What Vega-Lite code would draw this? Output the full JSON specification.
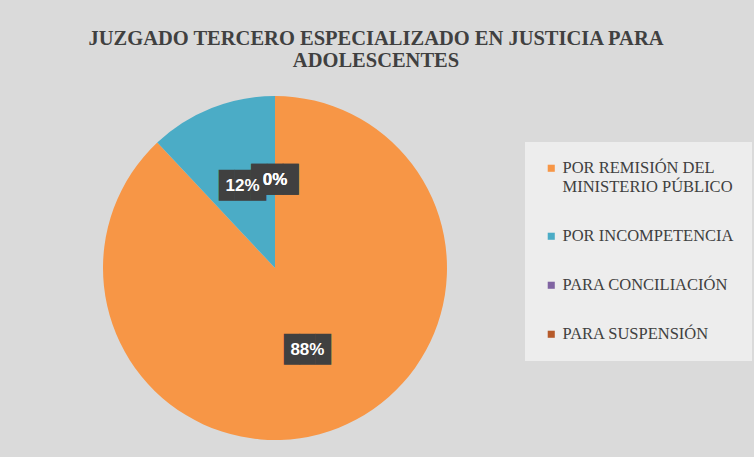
{
  "$schema": "https://vega.github.io/schema/vega-lite/v6.json",
  "autosize": {"type": "none"},
  "width": 550,
  "height": 376,
  "padding": {"left": 0, "top": 80, "right": 204, "bottom": 1},
  "background": "#dadada",
  "title": {
    "text": ["JUZGADO TERCERO ESPECIALIZADO EN JUSTICIA PARA", "ADOLESCENTES"],
    "font": "Liberation Serif",
    "fontSize": 20.5,
    "fontWeight": "bold",
    "color": "#404040",
    "anchor": "middle",
    "frame": "bounds",
    "offset": 9,
    "lineHeight": 22
  },
  "data": {
    "values": [
      {"categoria": "POR REMISIÓN DEL MINISTERIO PÚBLICO", "proporcion": 0.88, "orden": 1},
      {"categoria": "POR INCOMPETENCIA", "proporcion": 0.12, "orden": 2},
      {"categoria": "PARA CONCILIACIÓN", "proporcion": 0, "orden": 3},
      {"categoria": "PARA SUSPENSIÓN", "proporcion": 0, "orden": 4}
    ]
  },
  "encoding": {
    "theta": {"field": "proporcion", "type": "quantitative", "stack": true},
    "order": {"field": "orden", "type": "quantitative"},
    "color": {
      "field": "categoria",
      "type": "nominal",
      "sort": null,
      "scale": {"range": ["#F79646", "#4BACC6", "#8064A2", "#B65A2A"]},
      "legend": {
        "orient": "none",
        "legendX": 525,
        "legendY": 62,
        "title": null,
        "fillColor": "#ededed",
        "padding": 18,
        "labelFont": "Liberation Serif",
        "labelFontSize": 16.5,
        "labelColor": "#404040",
        "labelLimit": 300,
        "symbolType": "square",
        "symbolSize": 50,
        "symbolStrokeWidth": 0,
        "rowPadding": 32,
        "labelOffset": 3,
        "labelExpr": "datum.label == 'POR REMISIÓN DEL MINISTERIO PÚBLICO' ? ['POR REMISIÓN DEL', 'MINISTERIO PÚBLICO'] : datum.label"
      }
    }
  },
  "layer": [
    {"mark": {"type": "arc", "outerRadius": 172}},
    {
      "mark": {"type": "text", "radius": 88, "text": "███", "font": "DejaVu Sans Mono", "fontSize": 26, "baseline": "middle"},
      "encoding": {"color": {"value": "#404040"}, "detail": {"field": "categoria"}}
    },
    {
      "mark": {"type": "text", "radius": 88, "font": "Liberation Sans", "fontSize": 17, "fontWeight": "bold", "baseline": "middle"},
      "encoding": {
        "color": {"value": "#ffffff"},
        "detail": {"field": "categoria"},
        "text": {"field": "proporcion", "type": "quantitative", "format": ".0%"}
      }
    }
  ]
}
